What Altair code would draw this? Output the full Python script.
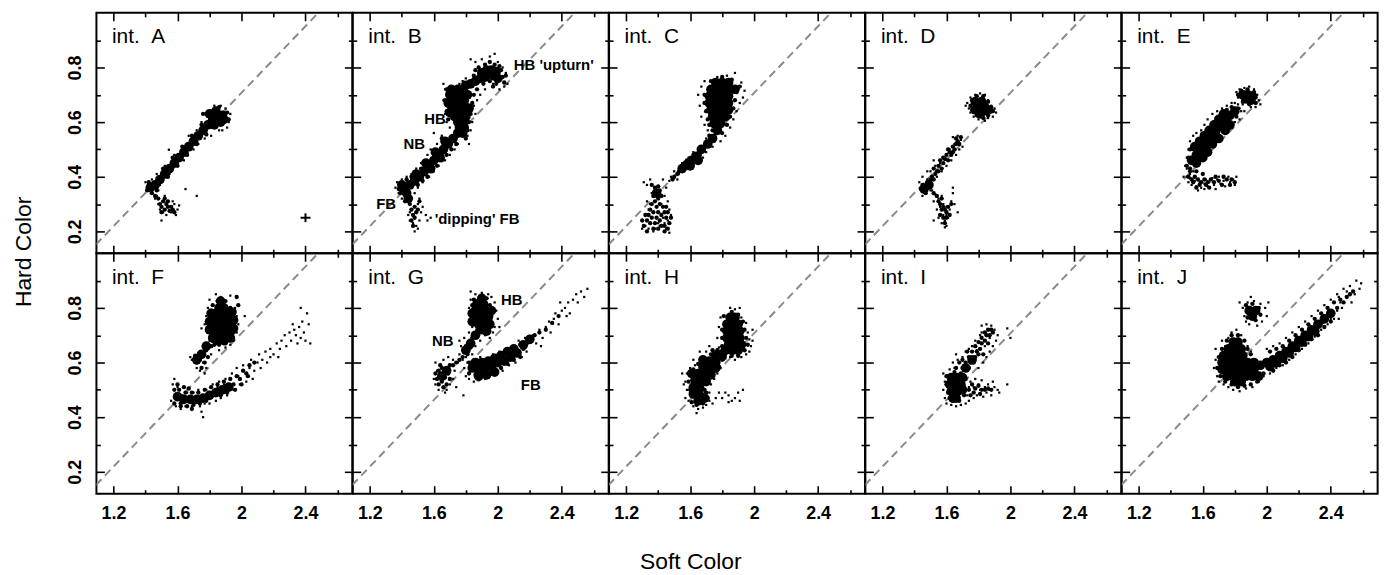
import altair as alt
import pandas as pd

FONT = "Liberation Sans"

# ---------------- axes / scales ----------------
soft_domain = [1.093, 2.693]
hard_domain = [0.12, 1.0]
soft_major = [1.2, 1.6, 2.0, 2.4]
soft_minor = [1.4, 1.8, 2.2, 2.6]
hard_major = [0.2, 0.4, 0.6, 0.8]
hard_minor = [0.3, 0.5, 0.7, 0.9]
soft_labels = ["1.2", "1.6", "2", "2.4"]
hard_labels = ["0.2", "0.4", "0.6", "0.8"]

panel_names = ["A", "B", "C", "D", "E", "F", "G", "H", "I", "J"]
panel_label_soft = 1.19
panel_label_hard = 0.91

# dashed diagonal (soft, hard) end points
diag_soft = [1.09, 2.48]
diag_hard = [0.152, 1.0]

# error cross shown in int. A
err_soft, err_hard, err_dsoft, err_dhard = 2.40, 0.25, 0.031, 0.016

# ---------------- data (soft, hard) ----------------
# *_core: densest parts of each cloud, *_mid: medium density, *_dots: scattered points
A_core = [(1.43, 0.36), (1.46, 0.37), (1.49, 0.39), (1.52, 0.41), (1.55, 0.43), (1.58, 0.45),
          (1.61, 0.47), (1.64, 0.49), (1.67, 0.51), (1.70, 0.53), (1.73, 0.55), (1.76, 0.57),
          (1.79, 0.59), (1.82, 0.61), (1.85, 0.62), (1.88, 0.625), (1.80, 0.63), (1.84, 0.64),
          (1.87, 0.60), (1.83, 0.59), (1.89, 0.61)]
A_mid = [(1.41, 0.35), (1.42, 0.38), (1.44, 0.34), (1.46, 0.33), (1.47, 0.35), (1.48, 0.32),
         (1.49, 0.30), (1.50, 0.29), (1.51, 0.31), (1.52, 0.28), (1.53, 0.30), (1.54, 0.29),
         (1.55, 0.275), (1.56, 0.29), (1.57, 0.28), (1.58, 0.27), (1.54, 0.31), (1.50, 0.27),
         (1.52, 0.32), (1.51, 0.43), (1.57, 0.47), (1.63, 0.51), (1.69, 0.55), (1.75, 0.59),
         (1.54, 0.40), (1.60, 0.44), (1.66, 0.48), (1.72, 0.52), (1.78, 0.555), (1.91, 0.635),
         (1.92, 0.61), (1.76, 0.63), (1.86, 0.655)]
A_dots = [(1.40, 0.38), (1.41, 0.36), (1.44, 0.39), (1.47, 0.41), (1.49, 0.37), (1.52, 0.44),
          (1.55, 0.41), (1.546, 0.499), (1.58, 0.48), (1.60, 0.44), (1.63, 0.51), (1.64, 0.46),
          (1.67, 0.55), (1.70, 0.50), (1.72, 0.57), (1.73, 0.52), (1.75, 0.60), (1.77, 0.54),
          (1.79, 0.64), (1.81, 0.55), (1.83, 0.66), (1.86, 0.57), (1.87, 0.66), (1.90, 0.65),
          (1.92, 0.60), (1.93, 0.63), (1.91, 0.58), (1.88, 0.57), (1.46, 0.32), (1.48, 0.30),
          (1.49, 0.28), (1.51, 0.27), (1.53, 0.26), (1.56, 0.27), (1.58, 0.30), (1.60, 0.28),
          (1.61, 0.295), (1.52, 0.33), (1.50, 0.24), (1.47, 0.33), (1.65, 0.355), (1.72, 0.33),
          (1.48, 0.35), (1.54, 0.31), (1.57, 0.31), (1.59, 0.26)]

B_core = [(1.90, 0.78), (1.93, 0.79), (1.96, 0.79), (1.92, 0.765), (1.97, 0.77), (2.00, 0.76),
          (1.86, 0.75), (1.83, 0.74), (1.80, 0.735), (1.89, 0.76), (1.99, 0.785),
          (1.71, 0.72), (1.75, 0.72), (1.78, 0.72), (1.70, 0.70), (1.74, 0.70), (1.78, 0.70),
          (1.71, 0.68), (1.75, 0.68), (1.79, 0.68), (1.71, 0.66), (1.75, 0.66), (1.79, 0.66),
          (1.72, 0.64), (1.76, 0.64), (1.80, 0.64), (1.73, 0.62), (1.77, 0.62), (1.80, 0.62),
          (1.75, 0.60), (1.79, 0.60), (1.76, 0.58), (1.79, 0.58), (1.75, 0.56), (1.78, 0.56),
          (1.69, 0.67), (1.70, 0.635), (1.82, 0.65), (1.81, 0.70),
          (1.72, 0.54), (1.69, 0.52), (1.66, 0.50), (1.63, 0.48), (1.60, 0.46), (1.57, 0.44),
          (1.54, 0.42), (1.51, 0.40), (1.48, 0.385), (1.45, 0.37), (1.67, 0.53), (1.61, 0.49),
          (1.55, 0.45), (1.49, 0.41), (1.58, 0.43), (1.64, 0.47),
          (1.41, 0.355), (1.43, 0.34), (1.40, 0.37), (1.44, 0.32)]
B_mid = [(1.45, 0.30), (1.46, 0.28), (1.47, 0.26), (1.48, 0.29), (1.49, 0.27), (1.46, 0.24),
         (1.48, 0.25), (1.50, 0.28), (1.47, 0.22), (1.51, 0.31), (1.68, 0.72), (1.67, 0.68),
         (1.68, 0.64), (1.69, 0.61), (1.82, 0.66), (1.83, 0.63), (1.82, 0.60), (1.81, 0.57),
         (1.80, 0.54), (1.88, 0.80), (1.92, 0.81), (1.95, 0.82), (1.98, 0.81), (2.02, 0.79),
         (2.03, 0.765), (2.04, 0.745), (1.99, 0.74), (1.95, 0.75), (1.88, 0.755), (1.85, 0.77),
         (1.74, 0.52), (1.71, 0.50), (1.68, 0.48), (1.65, 0.46), (1.62, 0.44), (1.59, 0.42),
         (1.56, 0.40), (1.53, 0.385), (1.50, 0.37), (1.43, 0.39), (1.46, 0.40), (1.52, 0.43),
         (1.65, 0.54), (1.38, 0.355), (1.39, 0.34), (1.42, 0.31), (1.85, 0.70), (1.87, 0.72),
         (1.84, 0.67), (2.05, 0.77), (2.01, 0.805), (1.86, 0.79), (1.91, 0.74), (1.97, 0.73)]
B_dots = [(1.83, 0.83), (1.86, 0.82), (1.90, 0.83), (1.95, 0.84), (1.98, 0.85), (2.00, 0.82),
          (2.03, 0.80), (2.05, 0.78), (2.06, 0.74), (2.04, 0.73), (2.01, 0.72), (1.97, 0.74),
          (1.92, 0.72), (1.89, 0.70), (1.87, 0.68), (1.85, 0.66), (1.86, 0.63), (1.84, 0.60),
          (1.83, 0.57), (1.81, 0.55), (1.82, 0.52), (1.66, 0.74), (1.67, 0.72), (1.66, 0.68),
          (1.67, 0.63), (1.68, 0.60), (1.70, 0.58), (1.65, 0.55), (1.62, 0.52), (1.58, 0.50),
          (1.56, 0.48), (1.52, 0.45), (1.49, 0.43), (1.46, 0.41), (1.43, 0.40), (1.40, 0.39),
          (1.37, 0.38), (1.36, 0.36), (1.38, 0.34), (1.40, 0.32), (1.44, 0.31), (1.48, 0.34),
          (1.50, 0.36), (1.53, 0.38), (1.57, 0.40), (1.60, 0.42), (1.63, 0.44), (1.67, 0.46),
          (1.70, 0.48), (1.73, 0.50), (1.75, 0.52), (1.60, 0.56), (1.45, 0.27), (1.45, 0.24),
          (1.47, 0.23), (1.49, 0.22), (1.51, 0.24), (1.52, 0.27), (1.53, 0.29), (1.55, 0.26),
          (1.56, 0.24), (1.58, 0.25), (1.51, 0.32), (1.44, 0.26), (1.50, 0.21), (1.48, 0.20),
          (1.93, 0.76), (1.89, 0.79), (1.80, 0.76), (1.78, 0.75), (1.76, 0.74), (1.50, 0.30)]

C_core = [(1.76, 0.745), (1.80, 0.745), (1.84, 0.745),
          (1.73, 0.72), (1.77, 0.72), (1.81, 0.72), (1.85, 0.72), (1.88, 0.72),
          (1.72, 0.695), (1.76, 0.695), (1.80, 0.695), (1.84, 0.695),
          (1.72, 0.67), (1.76, 0.67), (1.80, 0.67), (1.84, 0.67),
          (1.73, 0.645), (1.77, 0.645), (1.81, 0.645), (1.84, 0.645),
          (1.74, 0.62), (1.78, 0.62), (1.82, 0.62), (1.75, 0.595), (1.79, 0.595), (1.77, 0.57),
          (1.74, 0.54), (1.71, 0.52), (1.67, 0.50), (1.64, 0.475), (1.61, 0.46), (1.58, 0.445),
          (1.55, 0.43), (1.65, 0.46), (1.60, 0.44), (1.39, 0.34)]
C_mid = [(1.36, 0.37), (1.38, 0.36), (1.40, 0.365), (1.39, 0.34), (1.41, 0.35), (1.37, 0.33),
         (1.40, 0.32), (1.42, 0.33), (1.38, 0.31), (1.36, 0.30), (1.39, 0.29), (1.41, 0.30),
         (1.43, 0.29), (1.35, 0.28), (1.37, 0.27), (1.40, 0.27), (1.42, 0.26), (1.44, 0.27),
         (1.34, 0.26), (1.36, 0.25), (1.39, 0.25), (1.41, 0.24), (1.35, 0.23), (1.38, 0.23),
         (1.42, 0.22), (1.33, 0.24), (1.37, 0.21), (1.45, 0.25), (1.44, 0.22), (1.40, 0.21),
         (1.31, 0.22), (1.33, 0.20), (1.46, 0.21), (1.47, 0.23), (1.46, 0.27), (1.32, 0.26),
         (1.30, 0.24), (1.44, 0.20), (1.48, 0.25), (1.45, 0.29),
         (1.52, 0.41), (1.50, 0.40), (1.53, 0.42), (1.49, 0.39), (1.66, 0.48), (1.69, 0.51),
         (1.62, 0.48), (1.58, 0.46), (1.56, 0.44), (1.72, 0.55), (1.69, 0.70), (1.69, 0.67),
         (1.70, 0.64), (1.71, 0.61), (1.72, 0.59), (1.74, 0.57), (1.75, 0.55), (1.80, 0.56),
         (1.83, 0.59), (1.85, 0.62), (1.87, 0.65), (1.88, 0.68), (1.89, 0.71), (1.91, 0.73),
         (1.86, 0.755), (1.80, 0.765), (1.73, 0.75)]
C_dots = [(1.88, 0.78), (1.83, 0.77), (1.77, 0.765), (1.92, 0.745), (1.94, 0.715), (1.93, 0.69),
          (1.91, 0.67), (1.89, 0.64), (1.87, 0.61), (1.85, 0.58), (1.82, 0.55), (1.79, 0.53),
          (1.66, 0.66), (1.65, 0.70), (1.67, 0.73), (1.69, 0.75), (1.67, 0.62), (1.69, 0.59),
          (1.71, 0.57), (1.73, 0.55), (1.75, 0.53), (1.70, 0.54), (1.74, 0.51), (1.70, 0.49),
          (1.68, 0.47), (1.65, 0.50), (1.62, 0.49), (1.64, 0.45), (1.59, 0.47), (1.58, 0.43),
          (1.55, 0.45), (1.53, 0.41), (1.50, 0.42), (1.48, 0.40), (1.47, 0.385), (1.52, 0.39),
          (1.56, 0.42), (1.33, 0.37), (1.31, 0.38), (1.35, 0.39), (1.43, 0.39), (1.45, 0.36),
          (1.44, 0.33), (1.46, 0.31), (1.47, 0.28), (1.48, 0.26), (1.46, 0.24), (1.44, 0.23),
          (1.41, 0.22), (1.38, 0.21), (1.34, 0.21), (1.32, 0.22), (1.33, 0.24), (1.34, 0.28),
          (1.35, 0.30), (1.33, 0.31), (1.42, 0.30), (1.45, 0.21), (1.47, 0.195), (1.37, 0.20),
          (1.30, 0.21), (1.36, 0.34), (1.43, 0.25), (1.40, 0.23)]

D_core = [(1.78, 0.675), (1.82, 0.675), (1.80, 0.655), (1.84, 0.655), (1.78, 0.645),
          (1.83, 0.64), (1.86, 0.645), (1.81, 0.63), (1.46, 0.355), (1.49, 0.37)]
D_mid = [(1.75, 0.66), (1.76, 0.68), (1.79, 0.695), (1.83, 0.695), (1.86, 0.675), (1.88, 0.655),
         (1.89, 0.64), (1.86, 0.625), (1.83, 0.615), (1.79, 0.625), (1.76, 0.645),
         (1.45, 0.37), (1.47, 0.36), (1.46, 0.35), (1.48, 0.38), (1.44, 0.355), (1.47, 0.34),
         (1.49, 0.37), (1.50, 0.39), (1.51, 0.40), (1.53, 0.41), (1.52, 0.43), (1.54, 0.42),
         (1.55, 0.44), (1.57, 0.43), (1.56, 0.46), (1.58, 0.45), (1.59, 0.465), (1.60, 0.48),
         (1.61, 0.46), (1.62, 0.49), (1.63, 0.48), (1.64, 0.51), (1.65, 0.50), (1.66, 0.52),
         (1.67, 0.53), (1.68, 0.52), (1.66, 0.54), (1.69, 0.545), (1.55, 0.42), (1.58, 0.47),
         (1.61, 0.50), (1.64, 0.49), (1.52, 0.39),
         (1.52, 0.34), (1.54, 0.33), (1.55, 0.31), (1.57, 0.32), (1.56, 0.30), (1.58, 0.29),
         (1.57, 0.28), (1.59, 0.28), (1.60, 0.27), (1.58, 0.25), (1.60, 0.25), (1.62, 0.26),
         (1.59, 0.23), (1.61, 0.29), (1.63, 0.30), (1.56, 0.26)]
D_dots = [(1.73, 0.67), (1.74, 0.65), (1.75, 0.69), (1.78, 0.70), (1.81, 0.705), (1.84, 0.70),
          (1.86, 0.68), (1.88, 0.66), (1.90, 0.65), (1.91, 0.635), (1.89, 0.62), (1.86, 0.615),
          (1.84, 0.605), (1.80, 0.61), (1.77, 0.62), (1.75, 0.635), (1.72, 0.66),
          (1.43, 0.38), (1.44, 0.36), (1.45, 0.40), (1.48, 0.39), (1.50, 0.35), (1.51, 0.39),
          (1.50, 0.42), (1.53, 0.44), (1.54, 0.40), (1.56, 0.45), (1.57, 0.42), (1.59, 0.47),
          (1.60, 0.44), (1.62, 0.50), (1.63, 0.46), (1.65, 0.52), (1.66, 0.48), (1.67, 0.55),
          (1.69, 0.535), (1.70, 0.51), (1.68, 0.50), (1.64, 0.545), (1.52, 0.46), (1.48, 0.42),
          (1.45, 0.33), (1.51, 0.35), (1.53, 0.335), (1.55, 0.32), (1.52, 0.31), (1.57, 0.33),
          (1.58, 0.30), (1.56, 0.29), (1.60, 0.29), (1.62, 0.28), (1.60, 0.26), (1.58, 0.26),
          (1.63, 0.31), (1.64, 0.34), (1.64, 0.36), (1.67, 0.27), (1.59, 0.24), (1.57, 0.23),
          (1.60, 0.22), (1.52, 0.24), (1.55, 0.25), (1.54, 0.28), (1.61, 0.25), (1.59, 0.215),
          (1.65, 0.30)]

E_core = [(1.85, 0.70), (1.88, 0.70), (1.91, 0.695), (1.87, 0.685), (1.90, 0.68),
          (1.53, 0.46), (1.56, 0.48), (1.59, 0.50), (1.62, 0.52), (1.65, 0.545), (1.68, 0.565),
          (1.71, 0.585), (1.74, 0.605), (1.77, 0.625), (1.80, 0.64), (1.55, 0.51), (1.58, 0.53),
          (1.61, 0.55), (1.64, 0.57), (1.67, 0.59), (1.70, 0.61), (1.73, 0.63), (1.56, 0.45),
          (1.60, 0.47), (1.63, 0.49), (1.66, 0.52), (1.70, 0.54), (1.74, 0.57), (1.77, 0.59)]
E_mid = [(1.51, 0.40), (1.53, 0.39), (1.55, 0.40), (1.57, 0.39), (1.59, 0.38), (1.61, 0.39),
         (1.63, 0.38), (1.54, 0.38), (1.58, 0.37), (1.62, 0.37), (1.65, 0.39), (1.67, 0.38),
         (1.70, 0.385), (1.72, 0.37), (1.75, 0.39), (1.78, 0.39), (1.52, 0.42), (1.56, 0.42),
         (1.60, 0.41), (1.50, 0.44), (1.82, 0.70), (1.84, 0.715), (1.88, 0.72), (1.92, 0.71),
         (1.93, 0.69), (1.93, 0.67), (1.89, 0.665), (1.85, 0.675), (1.82, 0.65), (1.81, 0.62),
         (1.78, 0.655), (1.75, 0.645), (1.71, 0.625), (1.52, 0.50), (1.51, 0.47), (1.52, 0.43),
         (1.68, 0.40), (1.73, 0.40), (1.77, 0.37), (1.80, 0.38), (1.64, 0.36), (1.56, 0.36)]
E_dots = [(1.81, 0.71), (1.83, 0.72), (1.86, 0.725), (1.89, 0.73), (1.92, 0.72), (1.94, 0.70),
          (1.95, 0.68), (1.96, 0.665), (1.93, 0.655), (1.90, 0.655), (1.85, 0.665), (1.82, 0.69),
          (1.80, 0.67), (1.83, 0.65), (1.86, 0.64), (1.50, 0.43), (1.50, 0.47), (1.51, 0.50),
          (1.52, 0.53), (1.54, 0.55), (1.56, 0.56), (1.59, 0.57), (1.61, 0.59), (1.63, 0.61),
          (1.66, 0.63), (1.69, 0.64), (1.72, 0.65), (1.75, 0.66), (1.78, 0.67), (1.82, 0.665),
          (1.84, 0.64), (1.83, 0.61), (1.80, 0.60), (1.77, 0.58), (1.74, 0.56), (1.71, 0.545),
          (1.68, 0.53), (1.65, 0.51), (1.62, 0.49), (1.59, 0.46), (1.57, 0.44), (1.54, 0.42),
          (1.52, 0.41), (1.49, 0.44), (1.76, 0.60), (1.50, 0.40), (1.51, 0.38), (1.53, 0.37),
          (1.55, 0.385), (1.56, 0.365), (1.58, 0.38), (1.59, 0.36), (1.61, 0.375), (1.62, 0.39),
          (1.63, 0.365), (1.64, 0.38), (1.66, 0.395), (1.67, 0.37), (1.68, 0.355), (1.69, 0.39),
          (1.70, 0.40), (1.71, 0.375), (1.73, 0.385), (1.74, 0.365), (1.76, 0.40), (1.77, 0.38),
          (1.79, 0.39), (1.80, 0.37), (1.81, 0.40), (1.57, 0.35), (1.61, 0.355), (1.52, 0.395),
          (1.48, 0.40)]

F_core = [(1.86, 0.80), (1.89, 0.80), (1.84, 0.78), (1.88, 0.78), (1.91, 0.78),
          (1.83, 0.755), (1.87, 0.755), (1.91, 0.755), (1.83, 0.73), (1.87, 0.73), (1.91, 0.73),
          (1.84, 0.705), (1.88, 0.705), (1.92, 0.705), (1.85, 0.68), (1.89, 0.68),
          (1.87, 0.825), (1.81, 0.78), (1.80, 0.75), (1.80, 0.72), (1.95, 0.755), (1.95, 0.725),
          (1.94, 0.785), (1.93, 0.69), (1.82, 0.69), (1.78, 0.66), (1.75, 0.63), (1.72, 0.61),
          (1.60, 0.475), (1.64, 0.465), (1.68, 0.465), (1.72, 0.465), (1.76, 0.47), (1.80, 0.48),
          (1.84, 0.49), (1.88, 0.50), (1.92, 0.51)]
F_mid = [(1.81, 0.66), (1.78, 0.645), (1.76, 0.625), (1.74, 0.61), (1.72, 0.60), (1.75, 0.58),
         (1.77, 0.60), (1.79, 0.62), (1.83, 0.665), (1.71, 0.625), (1.82, 0.81), (1.85, 0.825),
         (1.90, 0.825), (1.93, 0.80), (1.94, 0.77), (1.95, 0.74), (1.95, 0.71), (1.93, 0.685),
         (1.90, 0.67), (1.86, 0.665), (1.81, 0.79), (1.80, 0.76), (1.80, 0.73), (1.81, 0.70),
         (1.82, 0.68), (1.58, 0.50), (1.61, 0.50), (1.65, 0.49), (1.69, 0.49), (1.58, 0.45),
         (1.62, 0.45), (1.66, 0.44), (1.70, 0.445), (1.74, 0.45), (1.78, 0.46), (1.73, 0.49),
         (1.77, 0.50), (1.81, 0.51), (1.85, 0.52), (1.89, 0.53), (1.93, 0.54), (1.95, 0.52),
         (1.97, 0.55), (1.99, 0.54), (2.01, 0.57), (2.03, 0.56), (2.05, 0.59), (2.08, 0.60),
         (1.96, 0.50), (1.91, 0.49), (1.87, 0.48), (2.00, 0.52), (2.04, 0.55), (1.60, 0.52),
         (1.64, 0.51), (1.67, 0.505), (1.62, 0.44), (1.69, 0.43), (1.97, 0.84), (1.98, 0.81)]
F_dots = [(1.84, 0.85), (1.87, 0.84), (1.93, 0.845), (1.80, 0.83), (1.79, 0.80), (1.78, 0.77),
          (1.77, 0.74), (1.79, 0.71), (1.96, 0.80), (1.97, 0.77), (1.98, 0.74), (1.97, 0.71),
          (1.95, 0.68), (1.93, 0.665), (1.90, 0.655), (1.86, 0.645), (2.02, 0.77), (1.75, 0.725),
          (1.80, 0.68), (1.77, 0.66), (1.74, 0.64), (1.71, 0.62), (1.69, 0.61), (1.68, 0.62),
          (1.72, 0.58), (1.74, 0.57), (1.77, 0.56), (1.78, 0.58), (1.81, 0.63), (1.76, 0.60),
          (1.57, 0.52), (1.58, 0.50), (1.56, 0.46), (1.59, 0.44), (1.62, 0.43), (1.65, 0.44),
          (1.66, 0.49), (1.69, 0.44), (1.70, 0.49), (1.74, 0.44), (1.75, 0.42), (1.73, 0.50),
          (1.77, 0.45), (1.78, 0.50), (1.80, 0.45), (1.82, 0.52), (1.84, 0.46), (1.86, 0.53),
          (1.87, 0.47), (1.90, 0.54), (1.91, 0.48), (1.94, 0.56), (1.95, 0.50), (1.97, 0.58),
          (1.99, 0.52), (2.01, 0.59), (2.03, 0.53), (2.05, 0.58), (2.06, 0.61), (2.08, 0.57),
          (2.10, 0.60), (2.11, 0.63), (2.13, 0.61), (2.15, 0.64), (2.16, 0.60), (2.18, 0.65),
          (2.20, 0.63), (2.22, 0.67), (2.23, 0.62), (2.25, 0.68), (2.27, 0.70), (2.28, 0.66),
          (2.30, 0.71), (2.31, 0.68), (2.33, 0.72), (2.34, 0.70), (2.36, 0.73), (2.37, 0.69),
          (2.38, 0.75), (2.39, 0.71), (2.40, 0.68), (2.42, 0.74), (2.43, 0.67), (2.37, 0.80),
          (2.41, 0.78), (2.35, 0.67), (2.32, 0.74), (2.24, 0.65), (2.18, 0.62), (2.12, 0.58),
          (2.07, 0.54), (1.98, 0.55), (1.93, 0.52), (1.89, 0.52), (1.85, 0.51), (1.81, 0.49),
          (1.76, 0.40), (1.71, 0.47), (1.67, 0.47), (1.63, 0.48), (1.60, 0.51), (1.58, 0.54)]

G_core = [(1.87, 0.815), (1.91, 0.815), (1.86, 0.79), (1.90, 0.79), (1.94, 0.79), (1.87, 0.765),
          (1.91, 0.765), (1.94, 0.765), (1.88, 0.74), (1.92, 0.74), (1.89, 0.72),
          (1.84, 0.78), (1.84, 0.75), (1.95, 0.74), (1.96, 0.79), (1.90, 0.835), (1.86, 0.70),
          (1.93, 0.715), (1.83, 0.67), (1.80, 0.645), (1.65, 0.55), (1.68, 0.57),
          (1.84, 0.58), (1.88, 0.57), (1.92, 0.58), (1.96, 0.585), (2.00, 0.60), (2.04, 0.605),
          (2.08, 0.62), (2.12, 0.635), (1.86, 0.60), (1.90, 0.60), (1.94, 0.605), (1.98, 0.615),
          (2.02, 0.625), (2.06, 0.64), (2.10, 0.65), (1.88, 0.55), (1.93, 0.555), (1.98, 0.565),
          (2.16, 0.665), (2.20, 0.685)]
G_mid = [(1.86, 0.70), (1.84, 0.69), (1.82, 0.675), (1.80, 0.66), (1.83, 0.655), (1.79, 0.64),
         (1.81, 0.63), (1.78, 0.62), (1.76, 0.61), (1.74, 0.60), (1.72, 0.59), (1.70, 0.59),
         (1.68, 0.58), (1.65, 0.58), (1.63, 0.57), (1.66, 0.56), (1.64, 0.55), (1.67, 0.545),
         (1.69, 0.56), (1.62, 0.54), (1.65, 0.53), (1.68, 0.52), (1.63, 0.52), (1.66, 0.51),
         (1.70, 0.54), (1.64, 0.59), (1.61, 0.56), (1.84, 0.81), (1.85, 0.83), (1.89, 0.84),
         (1.93, 0.835), (1.95, 0.81), (1.96, 0.77), (1.96, 0.745), (1.94, 0.72), (1.91, 0.71),
         (1.87, 0.715), (1.85, 0.74), (1.84, 0.77), (1.82, 0.60), (1.86, 0.60), (1.90, 0.60),
         (1.94, 0.605), (1.98, 0.62), (2.02, 0.63), (2.06, 0.645), (2.10, 0.655), (2.14, 0.665),
         (2.16, 0.65), (2.18, 0.67), (2.20, 0.685), (2.23, 0.70), (1.86, 0.555), (1.90, 0.555),
         (1.94, 0.56), (1.98, 0.57), (2.02, 0.58), (2.06, 0.595), (2.10, 0.61), (2.14, 0.62),
         (1.82, 0.56), (2.26, 0.71), (2.30, 0.72), (2.34, 0.745), (2.38, 0.77)]
G_dots = [(2.20, 0.68), (2.22, 0.70), (2.24, 0.67), (2.26, 0.72), (2.28, 0.69), (2.30, 0.73),
          (2.32, 0.75), (2.33, 0.71), (2.35, 0.76), (2.36, 0.78), (2.38, 0.74), (2.40, 0.79),
          (2.42, 0.80), (2.44, 0.82), (2.45, 0.78), (2.47, 0.83), (2.49, 0.85), (2.50, 0.82),
          (2.52, 0.86), (2.54, 0.84), (2.56, 0.87), (2.43, 0.77), (2.39, 0.82), (2.27, 0.66),
          (1.80, 0.55), (1.82, 0.54), (1.85, 0.53), (1.88, 0.535), (1.92, 0.54), (1.95, 0.55),
          (1.99, 0.56), (2.03, 0.57), (2.07, 0.59), (2.11, 0.60), (2.15, 0.62), (2.18, 0.64),
          (2.17, 0.69), (2.13, 0.68), (2.09, 0.66), (2.05, 0.645), (2.01, 0.64), (1.97, 0.63),
          (1.93, 0.61), (1.89, 0.62), (1.81, 0.60), (1.79, 0.58), (1.61, 0.60), (1.62, 0.57),
          (1.60, 0.54), (1.61, 0.52), (1.63, 0.50), (1.66, 0.51), (1.68, 0.50), (1.70, 0.52),
          (1.72, 0.54), (1.73, 0.57), (1.72, 0.61), (1.69, 0.62), (1.66, 0.61), (1.75, 0.60),
          (1.76, 0.63), (1.67, 0.49), (1.785, 0.48), (1.74, 0.51), (1.83, 0.86), (1.86, 0.85),
          (1.90, 0.855), (1.94, 0.85), (1.96, 0.84), (1.98, 0.82), (1.99, 0.79), (2.00, 0.76),
          (1.98, 0.73), (1.97, 0.71), (1.95, 0.69), (1.92, 0.70), (1.89, 0.68), (1.83, 0.83),
          (1.82, 0.80), (1.83, 0.76), (1.84, 0.73), (1.82, 0.71), (1.79, 0.69), (1.77, 0.66),
          (1.76, 0.68), (1.80, 0.62), (1.78, 0.61), (1.86, 0.66), (1.84, 0.63), (2.01, 0.73)]

H_core = [(1.85, 0.765), (1.88, 0.765), (1.83, 0.74), (1.87, 0.74), (1.90, 0.74),
          (1.83, 0.715), (1.87, 0.715), (1.91, 0.715), (1.83, 0.69), (1.87, 0.69), (1.91, 0.69),
          (1.84, 0.665), (1.88, 0.665), (1.92, 0.665), (1.82, 0.645), (1.86, 0.645), (1.90, 0.645),
          (1.76, 0.625), (1.72, 0.605), (1.76, 0.60), (1.68, 0.585), (1.72, 0.58), (1.65, 0.56),
          (1.69, 0.555), (1.63, 0.535), (1.67, 0.53), (1.62, 0.51), (1.66, 0.505), (1.62, 0.485),
          (1.66, 0.48), (1.65, 0.46), (1.69, 0.47), (1.76, 0.58), (1.68, 0.61), (1.73, 0.555),
          (1.70, 0.53), (1.61, 0.56), (1.80, 0.625)]
H_mid = [(1.81, 0.77), (1.86, 0.785), (1.90, 0.775), (1.93, 0.75), (1.94, 0.72), (1.95, 0.69),
         (1.96, 0.665), (1.94, 0.645), (1.90, 0.625), (1.86, 0.625), (1.80, 0.72), (1.80, 0.69),
         (1.80, 0.66), (1.79, 0.64), (1.80, 0.61), (1.79, 0.62), (1.78, 0.585), (1.75, 0.57),
         (1.72, 0.55), (1.70, 0.53), (1.69, 0.50), (1.70, 0.49), (1.71, 0.47), (1.68, 0.45),
         (1.64, 0.445), (1.61, 0.455), (1.60, 0.50), (1.59, 0.53), (1.60, 0.555), (1.62, 0.575),
         (1.65, 0.595), (1.69, 0.615), (1.73, 0.63), (1.77, 0.645), (1.74, 0.645)]
H_dots = [(1.85, 0.80), (1.88, 0.795), (1.91, 0.80), (1.79, 0.765), (1.78, 0.73), (1.92, 0.765),
          (1.95, 0.745), (1.96, 0.71), (1.97, 0.685), (1.98, 0.66), (1.97, 0.64), (1.95, 0.63),
          (1.92, 0.62), (1.88, 0.61), (1.85, 0.62), (1.82, 0.615), (1.78, 0.655), (1.77, 0.69),
          (1.99, 0.68), (1.99, 0.72), (1.58, 0.56), (1.57, 0.53), (1.58, 0.50), (1.57, 0.47),
          (1.59, 0.46), (1.62, 0.44), (1.65, 0.43), (1.68, 0.435), (1.70, 0.445), (1.72, 0.46),
          (1.64, 0.415), (1.72, 0.49), (1.73, 0.52), (1.75, 0.54), (1.77, 0.56), (1.79, 0.58),
          (1.81, 0.61), (1.70, 0.64), (1.67, 0.615), (1.63, 0.59), (1.60, 0.58), (1.72, 0.66),
          (1.66, 0.64), (1.62, 0.61), (1.55, 0.56), (1.56, 0.52), (1.78, 0.49), (1.80, 0.47),
          (1.82, 0.49), (1.84, 0.48), (1.86, 0.46), (1.88, 0.47), (1.90, 0.49), (1.91, 0.46),
          (1.93, 0.50), (1.84, 0.455), (1.76, 0.47), (1.74, 0.45)]

I_core = [(1.63, 0.545), (1.67, 0.545), (1.62, 0.52), (1.66, 0.52), (1.69, 0.52), (1.63, 0.495),
          (1.67, 0.495), (1.66, 0.47), (1.70, 0.545), (1.70, 0.50), (1.64, 0.47), (1.72, 0.58),
          (1.76, 0.61)]
I_mid = [(1.70, 0.58), (1.72, 0.60), (1.74, 0.62), (1.76, 0.64), (1.78, 0.66), (1.80, 0.675),
         (1.82, 0.69), (1.84, 0.71), (1.86, 0.72), (1.70, 0.61), (1.75, 0.60), (1.78, 0.62),
         (1.81, 0.65), (1.84, 0.68), (1.87, 0.70), (1.89, 0.71), (1.86, 0.67), (1.83, 0.63),
         (1.73, 0.64), (1.68, 0.60), (1.66, 0.58), (1.60, 0.55), (1.60, 0.52), (1.61, 0.49),
         (1.62, 0.47), (1.64, 0.46), (1.68, 0.46), (1.71, 0.48), (1.71, 0.51), (1.72, 0.54),
         (1.69, 0.56), (1.65, 0.565), (1.74, 0.50), (1.76, 0.52), (1.78, 0.505), (1.80, 0.515),
         (1.82, 0.50), (1.84, 0.50), (1.86, 0.505), (1.88, 0.50), (1.77, 0.49), (1.81, 0.485),
         (1.75, 0.48), (1.79, 0.64), (1.82, 0.67), (1.85, 0.70), (1.88, 0.72), (1.77, 0.60),
         (1.80, 0.63), (1.74, 0.58)]
I_dots = [(1.82, 0.735), (1.85, 0.74), (1.88, 0.735), (1.90, 0.72), (1.92, 0.70), (1.91, 0.68),
          (1.89, 0.66), (1.87, 0.64), (1.85, 0.62), (1.83, 0.60), (1.80, 0.58), (1.81, 0.70),
          (1.78, 0.68), (1.76, 0.66), (1.74, 0.65), (1.72, 0.64), (1.70, 0.62), (1.67, 0.61),
          (1.66, 0.63), (1.64, 0.60), (1.82, 0.71), (1.87, 0.69), (1.84, 0.66), (1.79, 0.645),
          (1.98, 0.725), (2.00, 0.69), (1.98, 0.52), (1.75, 0.53), (1.77, 0.51), (1.78, 0.54),
          (1.80, 0.52), (1.81, 0.50), (1.82, 0.535), (1.84, 0.51), (1.85, 0.49), (1.86, 0.52),
          (1.87, 0.50), (1.88, 0.48), (1.89, 0.53), (1.90, 0.51), (1.92, 0.50), (1.93, 0.49),
          (1.79, 0.48), (1.83, 0.475), (1.77, 0.47), (1.74, 0.46), (1.58, 0.56), (1.59, 0.53),
          (1.58, 0.50), (1.59, 0.47), (1.60, 0.45), (1.63, 0.445), (1.66, 0.44), (1.69, 0.445),
          (1.72, 0.45), (1.73, 0.48), (1.74, 0.51), (1.72, 0.57), (1.65, 0.58), (1.62, 0.575)]

J_core = [(1.89, 0.79), (1.93, 0.79), (1.91, 0.77),
          (1.79, 0.675), (1.82, 0.675), (1.76, 0.65), (1.80, 0.65), (1.84, 0.65),
          (1.73, 0.625), (1.77, 0.625), (1.81, 0.625), (1.85, 0.625),
          (1.72, 0.60), (1.76, 0.60), (1.80, 0.60), (1.84, 0.60), (1.88, 0.60),
          (1.72, 0.575), (1.76, 0.575), (1.80, 0.575), (1.84, 0.575), (1.88, 0.575), (1.92, 0.575),
          (1.75, 0.55), (1.79, 0.55), (1.83, 0.55), (1.87, 0.55), (1.91, 0.55), (1.95, 0.55),
          (1.80, 0.53), (1.84, 0.53),
          (1.92, 0.60), (1.96, 0.59), (2.00, 0.60), (2.04, 0.61), (2.08, 0.625), (2.12, 0.64),
          (2.16, 0.66), (2.20, 0.68), (2.24, 0.70), (2.28, 0.72), (2.32, 0.74), (2.36, 0.76),
          (2.40, 0.78), (2.02, 0.585), (2.06, 0.60), (2.10, 0.615), (2.14, 0.635), (2.18, 0.655),
          (2.22, 0.675), (2.26, 0.695), (2.30, 0.715)]
J_mid = [(2.44, 0.80), (2.46, 0.83), (2.48, 0.82), (2.50, 0.84), (2.52, 0.85), (2.54, 0.86),
         (2.42, 0.82), (2.38, 0.80), (2.34, 0.78), (2.30, 0.76), (2.26, 0.74), (2.22, 0.72),
         (2.18, 0.70), (2.14, 0.68), (2.10, 0.66), (2.06, 0.65), (2.02, 0.64), (2.04, 0.57),
         (2.08, 0.59), (2.12, 0.60), (2.16, 0.62), (2.20, 0.645), (2.24, 0.665), (2.28, 0.685),
         (2.32, 0.70), (2.36, 0.73), (2.40, 0.75), (1.98, 0.56), (1.94, 0.53), (1.90, 0.52),
         (1.86, 0.515), (1.82, 0.51), (1.78, 0.52), (1.74, 0.53), (1.71, 0.55), (1.69, 0.58),
         (1.70, 0.62), (1.72, 0.65), (1.75, 0.68), (1.78, 0.70), (1.82, 0.70), (1.86, 0.68),
         (1.88, 0.65), (1.90, 0.63), (1.87, 0.81), (1.91, 0.815), (1.95, 0.80), (1.96, 0.775),
         (1.93, 0.755), (1.88, 0.765)]
J_dots = [(1.85, 0.80), (1.86, 0.77), (1.88, 0.82), (1.92, 0.825), (1.96, 0.815), (1.99, 0.80),
          (2.00, 0.77), (1.97, 0.75), (1.94, 0.735), (1.89, 0.74), (1.87, 0.75), (1.83, 0.82),
          (1.90, 0.84), (2.01, 0.82), (2.00, 0.65), (2.04, 0.66), (2.08, 0.67), (2.12, 0.69),
          (2.16, 0.71), (2.20, 0.73), (2.24, 0.75), (2.28, 0.77), (2.32, 0.79), (2.36, 0.81),
          (2.40, 0.83), (2.44, 0.85), (2.48, 0.87), (2.52, 0.88), (2.56, 0.90), (2.58, 0.87),
          (2.55, 0.85), (2.50, 0.84), (2.46, 0.82), (2.44, 0.79), (2.42, 0.76), (2.38, 0.74),
          (2.34, 0.72), (2.30, 0.695), (2.26, 0.67), (2.22, 0.65), (2.18, 0.63), (2.14, 0.61),
          (2.10, 0.59), (2.06, 0.58), (2.02, 0.56), (1.98, 0.55), (2.53, 0.82), (2.47, 0.80),
          (2.40, 0.76), (2.35, 0.745), (2.45, 0.84), (2.50, 0.86), (2.59, 0.89), (2.45, 0.76),
          (1.68, 0.61), (1.67, 0.58), (1.69, 0.55), (1.70, 0.53), (1.73, 0.52), (1.76, 0.51),
          (1.79, 0.50), (1.83, 0.495), (1.87, 0.505), (1.91, 0.51), (1.95, 0.53), (1.74, 0.66),
          (1.76, 0.69), (1.78, 0.71), (1.81, 0.72), (1.84, 0.70), (1.86, 0.68), (1.88, 0.66),
          (1.90, 0.64), (1.68, 0.65), (1.72, 0.68)]

panel_core = [A_core, B_core, C_core, D_core, E_core, F_core, G_core, H_core, I_core, J_core]
panel_mid = [A_mid, B_mid, C_mid, D_mid, E_mid, F_mid, G_mid, H_mid, I_mid, J_mid]
panel_dots = [A_dots, B_dots, C_dots, D_dots, E_dots, F_dots, G_dots, H_dots, I_dots, J_dots]

annotations = [
    ("B", "HB 'upturn'", 2.10, 0.81),
    ("B", "HB", 1.54, 0.613),
    ("B", "NB", 1.41, 0.52),
    ("B", "FB", 1.24, 0.30),
    ("B", "'dipping' FB", 1.605, 0.246),
    ("G", "HB", 2.02, 0.829),
    ("G", "NB", 1.588, 0.678),
    ("G", "FB", 2.144, 0.518),
]


def label_expr(values, labels):
    expr = "''"
    for v, t in zip(reversed(values), reversed(labels)):
        expr = f"datum.value == {v} ? '{t}' : ({expr})"
    return expr


SOFT_EXPR = label_expr(soft_major, soft_labels)
HARD_EXPR = label_expr(hard_major, hard_labels)

W = 257.6
H = 242


def axis(orient, values, size, show_labels=False, expr=None):
    kw = dict(orient=orient, values=values, tickSize=size, offset=-size, domain=False,
              grid=False, ticks=True, tickColor="black", tickWidth=1.6, title=None,
              labels=show_labels)
    if show_labels:
        kw.update(labelExpr=expr, labelFont=FONT, labelFontSize=18, labelFontWeight="bold",
                  labelColor="black")
        if orient in ("left", "right"):
            kw.update(labelAngle=270, labelAlign="center", labelBaseline="bottom", labelPadding=12)
        else:
            kw.update(labelPadding=11)
    return alt.Axis(**kw)


def make_panel(idx):
    name = panel_names[idx]
    row, col = divmod(idx, 5)
    xs = alt.Scale(domain=soft_domain, nice=False, zero=False)
    ys = alt.Scale(domain=hard_domain, nice=False, zero=False)

    core_df = pd.DataFrame(panel_core[idx], columns=["soft", "hard"])
    mid_df = pd.DataFrame(panel_mid[idx], columns=["soft", "hard"])
    dots_df = pd.DataFrame(panel_dots[idx], columns=["soft", "hard"])
    diag_df = pd.DataFrame({"soft": diag_soft, "hard": diag_hard})
    lab_df = pd.DataFrame({"soft": [panel_label_soft], "hard": [panel_label_hard],
                           "t": ["int.\u00a0\u00a0" + name]})

    diag = alt.Chart(diag_df).mark_line(
        strokeDash=[8, 5], color="#8a8a8a", strokeWidth=2, clip=True
    ).encode(
        x=alt.X("soft:Q", scale=xs, axis=axis("top", soft_major, 8)),
        y=alt.Y("hard:Q", scale=ys, axis=axis("right", hard_major, 8)),
    )
    core = alt.Chart(core_df).mark_circle(size=95, color="black", opacity=1).encode(
        x=alt.X("soft:Q", scale=xs, axis=axis("bottom", soft_major, 8, row == 1, SOFT_EXPR)),
        y=alt.Y("hard:Q", scale=ys, axis=axis("left", hard_major, 8, col == 0, HARD_EXPR)),
    )
    mid = alt.Chart(mid_df).mark_circle(size=19, color="black", opacity=1).encode(
        x=alt.X("soft:Q", scale=xs, axis=None),
        y=alt.Y("hard:Q", scale=ys, axis=None),
    )
    dots = alt.Chart(dots_df).mark_square(size=5, color="black", opacity=1).encode(
        x=alt.X("soft:Q", scale=xs, axis=axis("bottom", soft_minor, 4)),
        y=alt.Y("hard:Q", scale=ys, axis=axis("left", hard_minor, 4)),
    )
    lab = alt.Chart(lab_df).mark_text(
        align="left", baseline="middle", font=FONT, fontSize=21, color="black"
    ).encode(
        x=alt.X("soft:Q", scale=xs, axis=axis("top", soft_minor, 4)),
        y=alt.Y("hard:Q", scale=ys, axis=axis("right", hard_minor, 4)),
        text="t:N",
    )
    layers = [diag, core, mid, dots, lab]

    ann = [a for a in annotations if a[0] == name]
    if ann:
        ann_df = pd.DataFrame({"t": [a[1] for a in ann], "soft": [a[2] for a in ann],
                               "hard": [a[3] for a in ann]})
        layers.append(
            alt.Chart(ann_df).mark_text(
                align="left", baseline="middle", font=FONT, fontSize=15, fontWeight="bold",
                color="black"
            ).encode(
                x=alt.X("soft:Q", scale=xs, axis=None),
                y=alt.Y("hard:Q", scale=ys, axis=None),
                text="t:N",
            )
        )
    if name == "A":
        err_df = pd.DataFrame({"soft": [err_soft], "hard": [err_hard],
                               "s_lo": [err_soft - err_dsoft], "s_hi": [err_soft + err_dsoft],
                               "h_lo": [err_hard - err_dhard], "h_hi": [err_hard + err_dhard]})
        base = alt.Chart(err_df).mark_rule(color="black", strokeWidth=2)
        layers.append(base.encode(x=alt.X("s_lo:Q", scale=xs, axis=None), x2="s_hi:Q",
                                  y=alt.Y("hard:Q", scale=ys, axis=None)))
        layers.append(base.encode(x=alt.X("soft:Q", scale=xs, axis=None),
                                  y=alt.Y("h_lo:Q", scale=ys, axis=None), y2="h_hi:Q"))

    return alt.layer(*layers).properties(width=W, height=H).resolve_axis(
        x="independent", y="independent"
    )


panels = [make_panel(i) for i in range(10)]

grid = alt.concat(*panels, columns=5, spacing=0, bounds="flush").properties(
    title=alt.Title("Soft Color", orient="bottom", anchor="middle", font=FONT, fontSize=23,
                    fontWeight="normal", color="black", offset=28, dx=-32)
)

chart = alt.hconcat(grid, spacing=0).properties(
    title=alt.Title("Hard Color", orient="left", anchor="middle", font=FONT, fontSize=23,
                    fontWeight="normal", color="black", offset=30, dx=41),
    padding={"left": 4, "top": 1, "right": 2, "bottom": 2},
).configure_view(stroke="black", strokeWidth=2)

chart.save("out.html", embed_options={"renderer": "svg", "actions": False})
